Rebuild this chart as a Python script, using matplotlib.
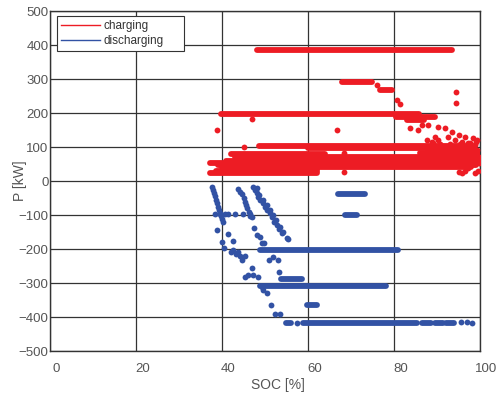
import matplotlib
matplotlib.use("Agg")
import matplotlib.pyplot as plt
import matplotlib.transforms as mtransforms
from matplotlib.lines import Line2D
import numpy as np

plt.rcParams['font.family'] = ['Liberation Sans', 'DejaVu Sans']

red = '#ED1C24'
blue = '#3252A4'
txt = '#555555'

# charging: long runs at constant power (SOC start, SOC end, P)
chg_run_start = [48.2, 67.8, 76.7, 39.7, 80.5, 83.0, 48.7, 60.0, 88.0, 86.0,
                 42.0, 43.0, 44.0, 41.0, 37.3, 39.0, 40.0, 45.0, 38.5, 37.3]
chg_run_end = [93.6, 74.8, 79.5, 85.7, 89.5, 87.0, 98.5, 98.5, 99.0, 99.5,
               64.0, 99.0, 99.5, 99.5, 99.5, 99.0, 98.0, 62.0, 62.0, 62.0]
chg_run_p = [385, 292, 268, 197, 189, 179, 103, 97, 88, 82,
             78, 72, 65, 58, 52, 46, 40, 34, 29, 24]

# charging: single samples
chg_soc = [76.0, 80.6, 81.4, 94.4, 94.4, 38.9, 46.9, 66.8, 45.0, 68.4, 68.4,
           83.7, 85.6, 86.5, 88.0, 90.2, 91.9, 93.5, 95.0, 96.5, 98.4, 99.0,
           89.5, 90.2, 88.8, 87.7, 92.6, 94.2, 95.8, 97.2, 98.8,
           89.1, 90.7, 93.0, 95.3, 97.7, 91.0, 93.5, 96.0, 98.5, 99.3,
           99.2, 99.6, 99.8, 99.7, 99.6,
           95.8, 97.3, 98.8, 99.6, 95.0, 96.5]
chg_p = [282, 238, 226, 261, 230, 150, 182, 150, 101, 81, 27,
         156, 150, 165, 165, 159, 156, 144, 135, 130, 126, 115,
         130, 121, 115, 121, 130, 121, 115, 112, 106,
         112, 108, 110, 108, 112, 92, 92, 94, 92, 120,
         91, 67, 52, 71, 62,
         24, 37, 24, 30, 27, 30]

# discharging: runs at constant power
dis_run_start = [48.8, 48.8, 53.7, 54.9, 58.8, 86.5, 89.5, 92.0, 66.9, 68.6, 59.7]
dis_run_end = [81.0, 78.1, 58.5, 56.0, 85.3, 88.5, 91.5, 94.0, 73.3, 71.3, 62.0]
dis_run_p = [-203, -309, -289, -418, -418, -418, -418, -418, -38, -99, -364]

# discharging: single samples
dis_soc = [37.6, 38.0, 38.1, 38.4, 38.6, 38.8, 39.1, 39.4, 39.5, 39.7, 39.9, 40.3,
           43.8, 44.2, 44.6, 45.0, 45.3, 45.6, 45.9, 46.3, 46.5, 46.9,
           47.3, 47.7, 48.2, 48.4, 48.8, 49.5, 50.0, 50.4, 51.2, 51.6, 52.1, 52.7, 53.3, 53.9, 55.0, 55.4,
           48.1, 48.7, 49.6, 50.4, 51.2, 51.8, 52.6, 53.5, 54.3,
           38.4, 39.5, 40.7, 41.4, 43.0, 44.9, 46.5,
           38.9, 39.9, 40.5, 41.5, 42.5, 42.0, 42.6, 43.3, 43.8, 44.2, 44.6, 45.3, 46.9,
           45.3, 46.1, 47.3, 48.4, 47.4, 48.2, 48.8, 49.2, 49.8, 51.0, 51.9, 53.1, 53.3,
           49.2, 49.6, 50.4, 51.3, 52.3, 53.5, 57.5, 95.5, 97.0, 98.1]
dis_p = [-19, -26, -34, -44, -56, -66, -75, -85, -95, -103, -113, -120,
         -24, -31, -38, -51, -61, -71, -80, -90, -103, -107,
         -19, -26, -36, -46, -56, -66, -75, -85, -95, -107, -120, -129, -142, -154, -169, -172,
         -21, -41, -56, -71, -85, -100, -115, -134, -149,
         -97, -97, -97, -97, -97, -97, -97,
         -144, -180, -198, -157, -176, -208, -203, -215, -208, -221, -232, -221, -257,
         -281, -276, -276, -283, -139, -159, -166, -181, -183, -232, -224, -232, -267,
         -311, -321, -330, -365, -391, -391, -418, -416, -415, -418]

fig = plt.figure(figsize=(4.96, 3.97), dpi=100)
ax = fig.add_axes([50/496, 1-351/397, 430/496, 340/397])

lw = 4.2
ax.hlines(chg_run_p, chg_run_start, chg_run_end, colors=red, lw=lw, capstyle='round', zorder=3)
ax.scatter(chg_soc, chg_p, s=lw**2, color=red, linewidths=0, zorder=3)
ax.hlines(dis_run_p, dis_run_start, dis_run_end, colors=blue, lw=lw, capstyle='round', zorder=3)
ax.scatter(dis_soc, dis_p, s=lw**2, color=blue, linewidths=0, zorder=3)

ax.set_xlim(0, 100)
ax.set_ylim(-500, 500)
ax.set_xticks(np.arange(0, 101, 20))
ax.set_yticks(np.arange(-500, 501, 100))
ax.grid(True, color='#333333', lw=0.9, zorder=1)
ax.set_axisbelow(True)
for s in ax.spines.values():
    s.set_color('#333333')
    s.set_linewidth(1.0)
ax.tick_params(length=0, labelsize=9.5, labelcolor=txt)
ax.tick_params(axis='x', pad=9)
ax.tick_params(axis='y', pad=1)

# nudge the x tick labels a little to the right
shift = mtransforms.ScaledTranslation(6.5/100, 0, fig.dpi_scale_trans)
for lab in ax.get_xticklabels():
    lab.set_transform(lab.get_transform() + shift)

ax.set_xlabel('SOC [%]', fontsize=10, color=txt)
ax.set_ylabel('P [kW]', fontsize=10, color=txt)
ax.xaxis.set_label_coords(0.531, -0.08)
ax.yaxis.set_label_coords(-0.053, 0.5)

handles = [Line2D([], [], color=red, lw=1), Line2D([], [], color=blue, lw=1)]
leg = ax.legend(handles, ['charging', 'discharging'], loc='upper left',
                bbox_to_anchor=(0.016, 0.985, 0.295, 0), mode='expand',
                borderaxespad=0, fontsize=8.5,
                fancybox=False, framealpha=1, edgecolor='#333333',
                handlelength=3.3, handletextpad=0.3, labelspacing=0.25,
                borderpad=0.35)
leg.get_frame().set_linewidth(0.8)
for t in leg.get_texts():
    t.set_color('#333333')

fig.savefig('out.png', dpi=100)
